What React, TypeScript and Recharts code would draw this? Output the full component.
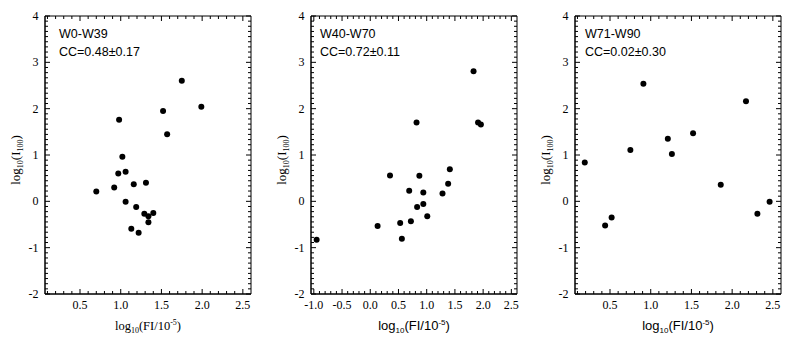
import React from "react";
import { ScatterChart, Scatter, XAxis, YAxis, ReferenceArea } from "recharts";

// ---------- data ----------
const panel1X = [1.75, 1.99, 1.52, 0.98, 1.57, 1.02, 0.97, 1.06, 1.31, 1.16, 0.92, 0.7, 1.06, 1.19, 1.29, 1.4, 1.34, 1.34, 1.13, 1.22];
const panel1Y = [2.6, 2.04, 1.95, 1.76, 1.45, 0.96, 0.6, 0.64, 0.4, 0.37, 0.3, 0.21, -0.01, -0.12, -0.27, -0.25, -0.32, -0.45, -0.59, -0.68];

const panel2X = [1.83, 0.82, 1.91, 1.96, 1.41, 0.35, 0.87, 1.38, 0.69, 0.94, 1.28, 0.94, 0.83, 1.01, 0.72, 0.53, 0.13, 0.56, -0.95];
const panel2Y = [2.81, 1.7, 1.7, 1.66, 0.69, 0.56, 0.55, 0.38, 0.23, 0.19, 0.17, -0.06, -0.12, -0.32, -0.43, -0.47, -0.53, -0.81, -0.83];

const panel3X = [0.19, 0.44, 0.52, 0.75, 0.91, 1.21, 1.26, 1.52, 1.86, 2.17, 2.31, 2.46];
const panel3Y = [0.84, -0.52, -0.35, 1.11, 2.54, 1.35, 1.02, 1.47, 0.36, 2.16, -0.27, -0.01];

const panelNames = ["W0-W39", "W40-W70", "W71-W90"];
const panelCC = ["CC=0.48\u00b10.17", "CC=0.72\u00b10.11", "CC=0.02\u00b10.30"];

const xMajorsA = [0.5, 1.0, 1.5, 2.0, 2.5];
const xMajorsB = [-1.0, -0.5, 0.0, 0.5, 1.0, 1.5, 2.0, 2.5];
const yMajors = [-2, -1, 0, 1, 2, 3, 4];
const yTickLabels = ["-2", "-1", "0", "1", "2", "3", "4"];

const xDomainA: [number, number] = [0.07, 2.6];
const xDomainB: [number, number] = [-1.05, 2.6];
const yDomain: [number, number] = [-2, 4];

// ---------- layout ----------
const W = 792;
const H = 346;
const PLOT_TOP = 16;
const X_AXIS_H = 52;
const Y_AXIS_W = 45;
const RIGHT_PAD = 10;
const PLOT_W = 206;
const PLOT_H = H - PLOT_TOP - X_AXIS_H;

const SERIF = "'Liberation Serif', 'Times New Roman', serif";
const SANS = "'Liberation Sans', Arial, sans-serif";

const isMajor = (v: number, majors: number[]) => majors.some((m) => Math.abs(m - v) < 1e-6);

function xTickValues(domain: [number, number]) {
  const out: number[] = [];
  const k0 = Math.ceil(domain[0] * 10 + 1e-6);
  const k1 = Math.floor(domain[1] * 10 - 1e-6);
  for (let k = k0; k <= k1; k++) out.push(k / 10);
  return out;
}

function yTickValues() {
  const out: number[] = [];
  for (let i = 0; i < yMajors.length - 1; i++) {
    for (let j = 0; j < 9; j++) out.push(yMajors[i] + j / 9);
  }
  out.push(yMajors[yMajors.length - 1]);
  return out;
}

const MAJOR_LEN = 5;
const MINOR_LEN = 3;

function BottomTick(props: any) {
  const { x, y, payload, majors } = props;
  const v = payload.value;
  const maj = isMajor(v, majors);
  const len = maj ? MAJOR_LEN : MINOR_LEN;
  const top = y - PLOT_H;
  return (
    <g>
      <line x1={x} x2={x} y1={y} y2={y - len} stroke="#000" strokeWidth={1} />
      <line x1={x} x2={x} y1={top} y2={top + len} stroke="#000" strokeWidth={1} />
      {maj && (
        <text x={x} y={y + 14.5} textAnchor="middle" fontFamily={SERIF} fontSize={12} fill="#000">
          {v.toFixed(1)}
        </text>
      )}
    </g>
  );
}

function LeftTick(props: any) {
  const { x, y, payload } = props;
  const v = payload.value;
  const idx = yMajors.findIndex((m) => Math.abs(m - v) < 1e-6);
  const maj = idx >= 0;
  const len = maj ? MAJOR_LEN : MINOR_LEN;
  const right = x + PLOT_W;
  return (
    <g>
      <line x1={x} x2={x + len} y1={y} y2={y} stroke="#000" strokeWidth={1} />
      <line x1={right} x2={right - len} y1={y} y2={y} stroke="#000" strokeWidth={1} />
      {maj && (
        <text x={x - 6.5} y={y + 4} textAnchor="end" fontFamily={SERIF} fontSize={12} fill="#000">
          {yTickLabels[idx]}
        </text>
      )}
    </g>
  );
}

function XTitle(props: any) {
  const vb = props.viewBox || { x: 0, y: 0, width: 0, height: 0 };
  const cx = vb.x + vb.width / 2;
  const y = vb.y + 36;
  const fs = props.family === SERIF ? 12.5 : 13;
  return (
    <text x={cx} y={y} textAnchor="middle" fontFamily={props.family} fontSize={fs} fill="#000">
      log
      <tspan fontSize={8} dy={3}>10</tspan>
      <tspan dy={-3}>(FI/10</tspan>
      <tspan fontSize={8} dy={-5}>-5</tspan>
      <tspan dy={5}>)</tspan>
    </text>
  );
}

function YTitle(props: any) {
  const vb = props.viewBox || { x: 0, y: 0, width: 0, height: 0 };
  const x = vb.x + vb.width - 25.5;
  const cy = vb.y + vb.height / 2 + 5;
  return (
    <text
      x={x}
      y={cy}
      textAnchor="middle"
      transform={`rotate(-90, ${x}, ${cy})`}
      fontFamily={SERIF}
      fontSize={13}
      fill="#000"
    >
      log
      <tspan fontSize={8} dy={3}>10</tspan>
      <tspan dy={-3}>(I</tspan>
      <tspan fontSize={8} dy={3}>100</tspan>
      <tspan dy={-3}>)</tspan>
    </text>
  );
}

function Dot(props: any) {
  const { cx, cy } = props;
  return <circle cx={cx} cy={cy} r={3} fill="#000" />;
}

type PanelCfg = {
  left: number;
  xs: number[];
  ys: number[];
  domain: [number, number];
  majors: number[];
  titleFont: string;
  name: string;
  cc: string;
  textOffset: number;
};

const panels: PanelCfg[] = [
  { left: 0, xs: panel1X, ys: panel1Y, domain: xDomainA, majors: xMajorsA, titleFont: SERIF, name: panelNames[0], cc: panelCC[0], textOffset: 14 },
  { left: 266, xs: panel2X, ys: panel2Y, domain: xDomainB, majors: xMajorsB, titleFont: SANS, name: panelNames[1], cc: panelCC[1], textOffset: 9 },
  { left: 530, xs: panel3X, ys: panel3Y, domain: xDomainA, majors: xMajorsA, titleFont: SANS, name: panelNames[2], cc: panelCC[2], textOffset: 10 },
];

function Panel({ cfg }: { cfg: PanelCfg }) {
  const data = cfg.xs.map((x, i) => ({ x, y: cfg.ys[i] }));
  const xt = xTickValues(cfg.domain);
  const yt = yTickValues();
  return (
    <div style={{ position: "absolute", left: cfg.left, top: 0 }}>
      <ScatterChart
        width={Y_AXIS_W + PLOT_W + RIGHT_PAD}
        height={H}
        margin={{ top: PLOT_TOP, right: RIGHT_PAD, bottom: 0, left: 0 }}
      >
        <XAxis
          dataKey="x"
          type="number"
          domain={cfg.domain}
          allowDataOverflow
          ticks={xt}
          interval={0}
          tickSize={0}
          tickMargin={0}
          height={X_AXIS_H}
          tickLine={false}
          axisLine={{ stroke: "#000", strokeWidth: 1 }}
          tick={(p: any) => <BottomTick {...p} majors={cfg.majors} />}
          label={<XTitle family={cfg.titleFont} />}
        />
        <YAxis
          dataKey="y"
          type="number"
          domain={yDomain}
          allowDataOverflow
          ticks={yt}
          interval={0}
          tickSize={0}
          tickMargin={0}
          width={Y_AXIS_W}
          tickLine={false}
          axisLine={{ stroke: "#000", strokeWidth: 1 }}
          tick={(p: any) => <LeftTick {...p} />}
          label={<YTitle />}
        />
        <ReferenceArea
          x1={cfg.domain[0]}
          x2={cfg.domain[1]}
          y1={yDomain[0]}
          y2={yDomain[1]}
          fill="none"
          fillOpacity={0}
          stroke="#000"
          strokeWidth={1}
          ifOverflow="visible"
        />
        <Scatter data={data} fill="#000" shape={(p: any) => <Dot {...p} />} isAnimationActive={false} />
      </ScatterChart>
    </div>
  );
}

export default function App() {
  return (
    <div style={{ position: "absolute", left: 0, top: 0, width: W, height: H, background: "#fff" }}>
      {panels.map((cfg, i) => (
        <Panel key={i} cfg={cfg} />
      ))}
      <svg width={W} height={H} style={{ position: "absolute", left: 0, top: 0, pointerEvents: "none" }}>
        {panels.map((cfg, i) => {
          const x = cfg.left + Y_AXIS_W + cfg.textOffset;
          return (
            <g key={i}>
              <text x={x} y={38} fontFamily={SANS} fontSize={12.5} fill="#000">
                {cfg.name}
              </text>
              <text x={x} y={56} fontFamily={SANS} fontSize={12.5} fill="#000">
                {cfg.cc}
              </text>
            </g>
          );
        })}
      </svg>
    </div>
  );
}
